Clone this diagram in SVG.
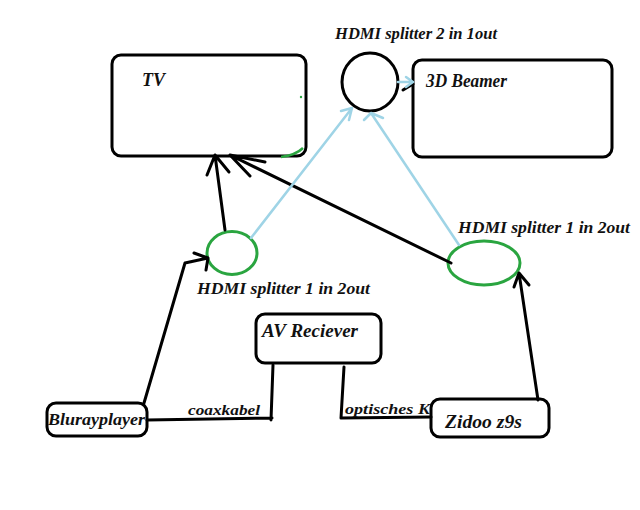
<svg xmlns="http://www.w3.org/2000/svg" width="640" height="510" viewBox="0 0 640 510">
<style>
.box{fill:none;stroke:#000;stroke-width:3}
.sp{fill:none;stroke:#2aa540;stroke-width:3}
.c{fill:none;stroke:#000;stroke-width:3;stroke-linecap:round;stroke-linejoin:round}
.b{fill:none;stroke:#9fd4e6;stroke-width:2.5;stroke-linecap:round;stroke-linejoin:round}
text{font-family:"Liberation Serif","DejaVu Serif",serif;font-style:italic;font-weight:bold;fill:#111}
</style>
<rect width="640" height="510" fill="#fff"/>
<g id="tv">
<rect class="box" x="112" y="55" width="194" height="101" rx="9"/>
<text x="142" y="86" font-size="18">TV</text>
</g>
<g id="beamer">
<rect class="box" x="413" y="60" width="199" height="97" rx="9"/>
<text x="426" y="87" font-size="18" textLength="81" lengthAdjust="spacingAndGlyphs">3D Beamer</text>
</g>
<g id="splitter2">
<ellipse cx="370" cy="82" rx="28" ry="29" fill="none" stroke="#000" stroke-width="3"/>
<text x="335" y="39" font-size="16" textLength="162" lengthAdjust="spacingAndGlyphs">HDMI splitter 2 in 1out</text>
</g>
<g id="splitterLeft">
<ellipse class="sp" cx="232" cy="253" rx="25" ry="21.5"/>
<text x="197" y="294" font-size="16" textLength="173" lengthAdjust="spacingAndGlyphs">HDMI splitter 1 in 2out</text>
</g>
<g id="splitterRight">
<ellipse class="sp" cx="484" cy="263" rx="36" ry="22"/>
<text x="458" y="233" font-size="16" textLength="172" lengthAdjust="spacingAndGlyphs">HDMI splitter 1 in 2out</text>
</g>
<g id="avreceiver">
<rect class="box" x="256" y="314" width="125" height="49" rx="9"/>
<text x="262" y="337" font-size="18" textLength="96" lengthAdjust="spacingAndGlyphs">AV Reciever</text>
</g>
<g id="bluray">
<rect class="box" x="47" y="403" width="100" height="33" rx="9"/>
<text x="48" y="425" font-size="16" textLength="97" lengthAdjust="spacingAndGlyphs">Blurayplayer</text>
</g>
<g id="zidoo">
<rect class="box" x="431" y="399" width="118" height="38" rx="9"/>
<text x="445" y="428" font-size="18" textLength="77" lengthAdjust="spacingAndGlyphs">Zidoo z9s</text>
</g>
<g id="connectors">
<path class="c" d="M144,403 L185,263 L208,258 M194,253 L208,258 L206,270"/>
<path class="c" d="M225,230 L215,155 M207,175 L215,155 L229,172"/>
<path class="c" d="M451,263 L230,155 M265,162 L230,155 L250,176"/>
<path class="c" d="M538,400 L519,273 M514,287 L519,273 L529,285"/>
<path class="c" d="M147,420 L272,418 M273,365 L271,420"/>
<path class="c" d="M344,367 L341,418 L431,417"/>
<path class="c" d="M403,90 L413,84"/>
<path class="b" d="M251,238 L352,108 M341,111 L352,108 L349,120"/>
<path class="b" d="M459,245 L371,113 M364,120 L371,113 L383,118"/>
<path class="b" d="M398,82 L413,82 M406,77 L413,82 L406,87"/>
<path d="M281,157 Q296,155 303,148" fill="none" stroke="#2aa540" stroke-width="2.5"/>
<circle cx="301" cy="97" r="1.2" fill="#2aa540"/>
<text x="188" y="415" font-size="15" font-weight="normal" textLength="72" lengthAdjust="spacingAndGlyphs">coaxkabel</text>
<text x="345" y="414" font-size="15" font-weight="normal" textLength="85" lengthAdjust="spacingAndGlyphs">optisches K</text>
</g>
</svg>
